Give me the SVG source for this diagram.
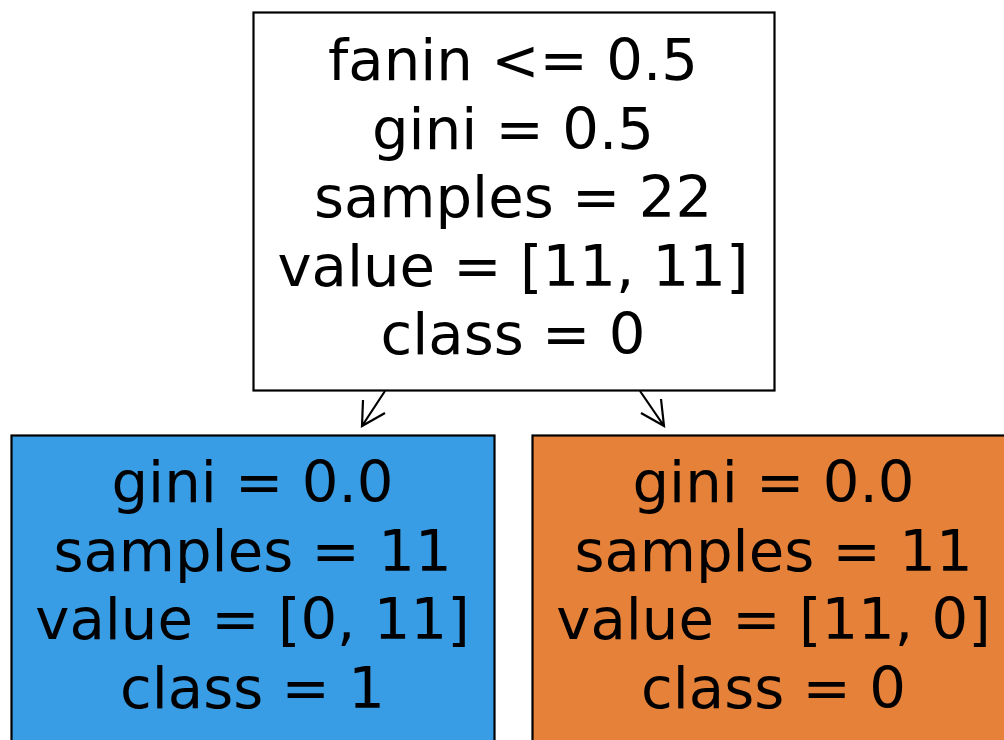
<svg xmlns="http://www.w3.org/2000/svg" width="1004" height="740" viewBox="0 0 1004 740">
<style>
.box{stroke:#000;stroke-width:2.2}
.t{font-family:"DejaVu Sans",sans-serif;font-size:57.7px;fill:#000;text-anchor:middle}
.c{stroke:#000;stroke-width:2.2;fill:none}
</style>
<rect width="1004" height="740" fill="#fff"/>
<g id="connectors">
<path class="c" d="M385,391 L362,426 M363,400 L362,426 L385,413"/>
<path class="c" d="M640,391 L664,426 M661,399 L664,426 L641,413"/>
</g>
<g id="root">
<rect class="box" x="253.5" y="12.5" width="521" height="378" fill="#fff"/>
<text class="t" x="513" y="80">fanin &lt;= 0.5</text>
<text class="t" x="513" y="148.5">gini = 0.5</text>
<text class="t" x="513" y="217">samples = 22</text>
<text class="t" x="513" y="285.5">value = [11, 11]</text>
<text class="t" x="513" y="354">class = 0</text>
</g>
<g id="left">
<rect class="box" x="11.5" y="435.5" width="483" height="330" fill="#399de5"/>
<text class="t" x="252.5" y="502">gini = 0.0</text>
<text class="t" x="252.5" y="570.5">samples = 11</text>
<text class="t" x="252.5" y="639">value = [0, 11]</text>
<text class="t" x="252.5" y="707.5">class = 1</text>
</g>
<g id="right">
<rect class="box" x="532.5" y="435.5" width="483" height="330" fill="#e58139"/>
<text class="t" x="773.5" y="502">gini = 0.0</text>
<text class="t" x="773.5" y="570.5">samples = 11</text>
<text class="t" x="773.5" y="639">value = [11, 0]</text>
<text class="t" x="773.5" y="707.5">class = 0</text>
</g>
</svg>
